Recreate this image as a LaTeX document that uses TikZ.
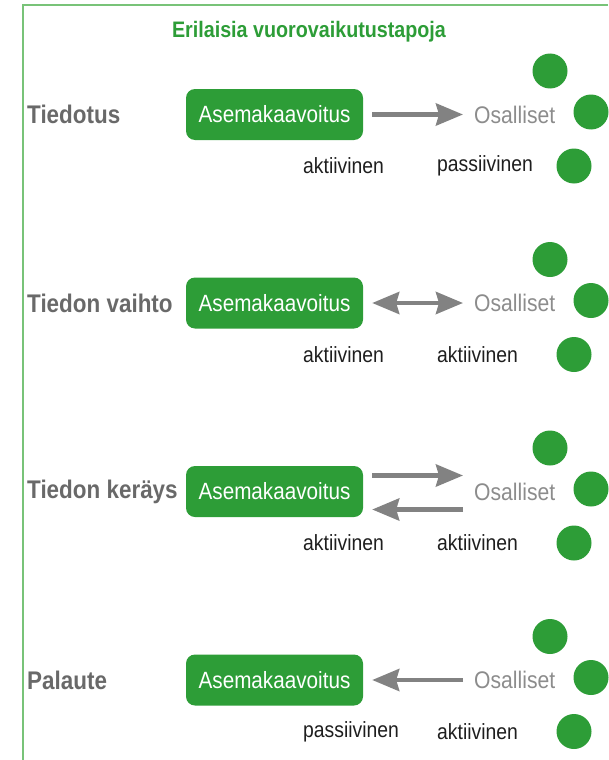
\documentclass[tikz,border=0pt]{standalone}
\usepackage{fontspec}
\setmainfont[FakeStretch=0.88]{Liberation Sans}
\usetikzlibrary{arrows.meta}
\definecolor{gr}{RGB}{45,157,55}
\definecolor{frameg}{RGB}{120,195,120}
\definecolor{lblgray}{RGB}{105,105,105}
\definecolor{osgray}{RGB}{140,140,140}
\definecolor{arrgray}{RGB}{130,130,130}
\definecolor{txt}{RGB}{30,30,30}
\tikzset{
  box/.style={fill=gr, rounded corners=9pt, minimum width=177pt, minimum height=51pt, inner sep=0pt,
    text=white, font=\fontsize{23.5}{26}\selectfont},
  rowlbl/.style={anchor=west, inner sep=0pt, text=lblgray, font=\fontsize{25.5}{28}\selectfont\bfseries},
  oslbl/.style={anchor=west, inner sep=0pt, text=osgray, font=\fontsize{24}{26}\selectfont},
  sublbl/.style={anchor=west, inner sep=0pt, text=txt, font=\fontsize{22}{24}\selectfont},
  dot/.style={circle, fill=gr, minimum size=35pt, inner sep=0pt},
  conn/.style={draw=arrgray, line width=4.5pt, shorten <=9pt, shorten >=11pt},
  tip/.tip={Stealth[length=27pt,width=22pt,inset=3pt]}
}
\begin{document}
\begin{tikzpicture}[x=1pt,y=-1pt]
\useasboundingbox (0,0) rectangle (608,760);
\draw[frameg, line width=1.5pt] (608,5) -- (23,5) -- (23,760);
\node[text=gr, font=\fontsize{22.4}{25}\selectfont\bfseries] (title) at (309,32) {Erilaisia vuorovaikutustapoja};

% rows
\foreach \i/\y/\name/\la/\lb in {1/114.5/Tiedotus/aktiivinen/passiivinen,
                                 2/303/Tiedon vaihto/aktiivinen/aktiivinen,
                                 3/491.5/Tiedon keräys/aktiivinen/aktiivinen,
                                 4/680/Palaute/passiivinen/aktiivinen}{
  \node[rowlbl] (r\i) at (27,\y) {\name};
  \node[box] (b\i) at (274.5,\y) {Asemakaavoitus};
  \node[oslbl] (o\i) at (474,\y) {Osalliset};
  \node[sublbl] (la\i) at (303,\y+51.5) {\la};
  \node[sublbl] (lb\i) at (437,\y+51.5) {\lb};
  \node[dot] (ct\i) at (550,\y-43.5) {};
  \node[dot] (cm\i) at (591,\y-2.5) {};
  \node[dot] (cb\i) at (574,\y+51.5) {};
}

% connectors
\draw[conn, -tip] (b1.east) -- (o1.west);
\draw[conn, tip-tip] (b2.east) -- (o2.west);
\draw[conn, -tip] ([yshift=16pt]b3.east) -- ([yshift=16pt]o3.west);
\draw[conn, shorten <=11pt, shorten >=9pt, -tip] ([yshift=-18pt]o3.west) -- ([yshift=-18pt]b3.east);
\draw[conn, shorten <=11pt, shorten >=9pt, -tip] (o4.west) -- (b4.east);
\end{tikzpicture}
\end{document}
